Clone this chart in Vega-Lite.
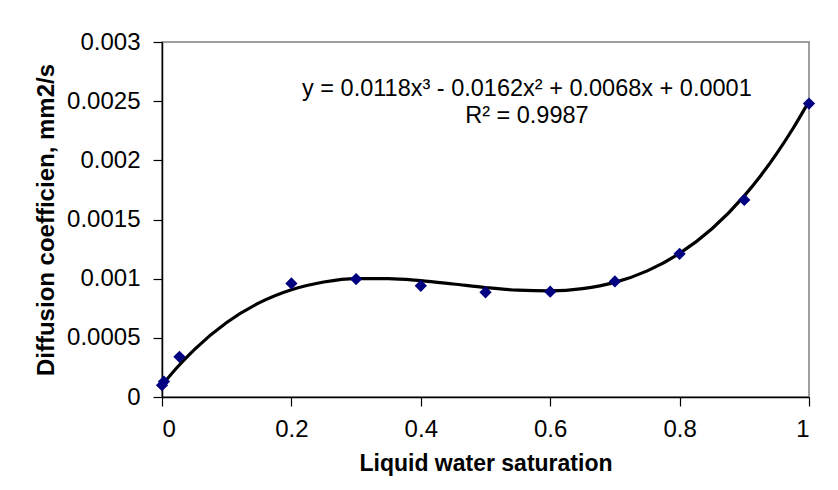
{
  "$schema": "https://vega.github.io/schema/vega-lite/v6.json",
  "autosize": "none",
  "width": 647,
  "height": 355,
  "padding": {"left": 162, "top": 42, "right": 29, "bottom": 93},
  "background": "white",
  "config": {
    "view": {"stroke": "#808080", "strokeWidth": 1.5},
    "font": "Liberation Sans",
    "axis": {
      "grid": false,
      "domainColor": "#000000",
      "domainWidth": 1.5,
      "tickColor": "#000000",
      "tickWidth": 1.2,
      "tickSize": 9,
      "labelFont": "Liberation Sans",
      "labelFontSize": 24,
      "labelColor": "#000000",
      "titleFont": "Liberation Sans",
      "titleFontWeight": "bold",
      "titleColor": "#000000"
    }
  },
  "datasets": {
    "points": [
      {"s": 0.0, "d": 0.0001},
      {"s": 0.003, "d": 0.00013},
      {"s": 0.027, "d": 0.00034},
      {"s": 0.2, "d": 0.00096},
      {"s": 0.3, "d": 0.000997},
      {"s": 0.4, "d": 0.00094},
      {"s": 0.5, "d": 0.000885},
      {"s": 0.6, "d": 0.00089},
      {"s": 0.7, "d": 0.000977},
      {"s": 0.8, "d": 0.00121},
      {"s": 0.9, "d": 0.001665},
      {"s": 1.0, "d": 0.00248}
    ],
    "trend": [
      {"s": 0.0, "d": 0.0001},
      {"s": 0.025, "d": 0.00026},
      {"s": 0.05, "d": 0.000401},
      {"s": 0.1, "d": 0.00063},
      {"s": 0.15, "d": 0.000795},
      {"s": 0.2, "d": 0.000906},
      {"s": 0.25, "d": 0.000972},
      {"s": 0.3, "d": 0.001001},
      {"s": 0.35, "d": 0.001001},
      {"s": 0.4, "d": 0.000983},
      {"s": 0.45, "d": 0.000955},
      {"s": 0.5, "d": 0.000925},
      {"s": 0.55, "d": 0.000903},
      {"s": 0.6, "d": 0.000897},
      {"s": 0.65, "d": 0.000916},
      {"s": 0.7, "d": 0.000969},
      {"s": 0.75, "d": 0.001066},
      {"s": 0.8, "d": 0.001214},
      {"s": 0.85, "d": 0.001422},
      {"s": 0.9, "d": 0.0017},
      {"s": 0.925, "d": 0.001868},
      {"s": 0.95, "d": 0.002057},
      {"s": 0.975, "d": 0.002267},
      {"s": 1.0, "d": 0.0025}
    ],
    "notes": [
      {"s": 0.564, "d": 0.002545, "text": "y = 0.0118x³ - 0.0162x² + 0.0068x + 0.0001"},
      {"s": 0.564, "d": 0.002317, "text": "R² = 0.9987"}
    ]
  },
  "layer": [
    {
      "data": {"name": "trend"},
      "mark": {"type": "line", "color": "#000000", "strokeWidth": 3.2, "interpolate": "monotone", "clip": true},
      "encoding": {
        "x": {
          "field": "s", "type": "quantitative",
          "scale": {"domain": [0, 1], "nice": false, "zero": false},
          "axis": {"values": [0, 0.2, 0.4, 0.6, 0.8, 1], "format": "~g", "labelPadding": 11, "titlePadding": 11, "titleFontSize": 23, "title": "Liquid water saturation"}
        },
        "y": {
          "field": "d", "type": "quantitative",
          "scale": {"domain": [0, 0.003], "nice": false},
          "axis": {"values": [0, 0.0005, 0.001, 0.0015, 0.002, 0.0025, 0.003], "format": "~g", "labelPadding": 13, "titlePadding": 8, "titleFontSize": 24, "title": "Diffusion coefficien, mm2/s"}
        }
      }
    },
    {
      "data": {"name": "points"},
      "mark": {"type": "point", "shape": "diamond", "filled": true, "color": "#000080", "opacity": 1, "size": 150},
      "encoding": {
        "x": {"field": "s", "type": "quantitative"},
        "y": {"field": "d", "type": "quantitative"}
      }
    },
    {
      "data": {"name": "notes"},
      "mark": {"type": "text", "font": "Liberation Sans", "fontSize": 23.5, "color": "#000000", "align": "center", "baseline": "alphabetic"},
      "encoding": {
        "x": {"field": "s", "type": "quantitative"},
        "y": {"field": "d", "type": "quantitative"},
        "text": {"field": "text"}
      }
    }
  ]
}
